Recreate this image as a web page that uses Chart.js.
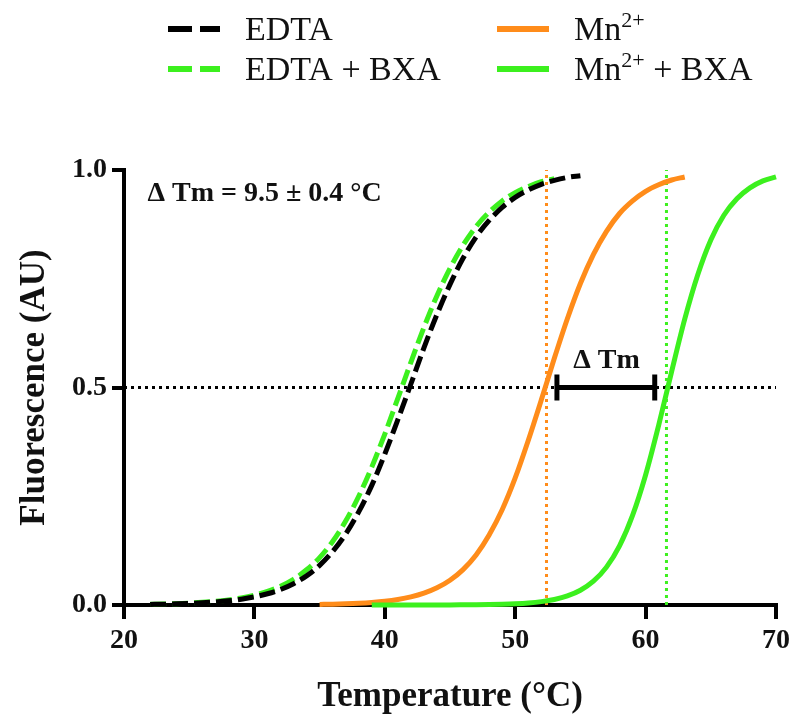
<!DOCTYPE html>
<html>
<head>
<meta charset="utf-8">
<script src="https://cdn.jsdelivr.net/npm/chart.js@4.4.1/dist/chart.umd.min.js"></script>
<style>
  html,body{margin:0;padding:0;background:#fff;}
  canvas{display:block;}
</style>
</head>
<body>
<canvas id="chart" width="795" height="724"></canvas>
<script>
// ====== DATA ======
const seriesLabels = ['EDTA', 'EDTA + BXA', 'Mn2+', 'Mn2+ + BXA'];

const edtaTemps = [22,23,24,25,26,27,28,29,30,31,32,33,34,35,36,37,38,39,40,41,42,43,44,45,46,47,48,49,50,51,52,53,54,55];
const edtaValues = [0.0013,0.0018,0.0026,0.0036,0.005,0.0069,0.0096,0.0134,0.0186,0.0258,0.0356,0.049,0.067,0.091,0.123,0.163,0.214,0.275,0.347,0.426,0.508,0.591,0.668,0.737,0.797,0.846,0.884,0.914,0.937,0.954,0.967,0.976,0.983,0.987];

const edtaBxaTemps = [22,23,24,25,26,27,28,29,30,31,32,33,34,35,36,37,38,39,40,41,42,43,44,45,46,47,48,49,50,51,52,53];
const edtaBxaValues = [0.0016,0.0022,0.0031,0.0044,0.0061,0.0084,0.0117,0.0163,0.0226,0.0313,0.0431,0.059,0.081,0.109,0.146,0.193,0.25,0.317,0.393,0.475,0.558,0.638,0.711,0.774,0.827,0.87,0.903,0.929,0.948,0.962,0.973,0.98];

const mnTemps = [35,36,37,38,39,40,41,42,43,44,45,46,47,48,49,50,51,52,53,54,55,56,57,58,59,60,61,62,63];
const mnValues = [0.0013,0.0019,0.0028,0.0041,0.006,0.0087,0.0128,0.0187,0.0272,0.0395,0.0569,0.0814,0.115,0.161,0.219,0.292,0.378,0.471,0.567,0.658,0.739,0.806,0.859,0.9,0.929,0.951,0.966,0.977,0.984];

const mnBxaTemps = [39,40,41,42,43,44,45,46,47,48,49,50,51,52,53,54,55,56,57,58,59,60,61,62,63,64,65,66,67,68,69,70];
const mnBxaValues = [0,0,0,0.0001,0.0001,0.0001,0.0002,0.0004,0.0006,0.0011,0.0018,0.0029,0.0047,0.0078,0.0128,0.0208,0.0339,0.0547,0.0871,0.136,0.206,0.299,0.413,0.537,0.657,0.759,0.839,0.896,0.934,0.959,0.975,0.984];

const tmValues = [52.4, 61.6];       // Mn2+, Mn2+ + BXA
const deltaBar = [53.2, 60.7];       // ΔTm bar ends
const halfLevel = 0.5;
const xTicks = [20, 70, 10];         // min, max, step
const yTicks = [0, 1, 0.5];
const deltaText = 'Δ Tm = 9.5 ± 0.4 °C';

// ====== STYLE ======
const BLACK = '#000000';
const GREEN = '#3cf01e';
const ORANGE = '#ff8c1a';
const SERIF = "Liberation Serif, DejaVu Serif, serif";

function pts(xs, ys){ return xs.map((x,i)=>({x:x, y:ys[i]})); }

const curve = (label, xs, ys, color, dash, order) => ({
  label, data: pts(xs, ys), showLine:true, borderColor:color, backgroundColor:color,
  borderWidth:5, borderDash:dash, pointRadius:0, cubicInterpolationMode:'monotone',
  order, clip:8, legendItem:true
});

const dotted = (data, color) => ({
  data, showLine:true, borderColor:color, borderWidth:3, borderDash:[3,4],
  pointRadius:0, order:20, clip:false
});

// ====== PLUGINS ======
function drawLabel(ctx, text, x, y){
  text.split(/(2\+)/).forEach(p=>{
    if(!p) return;
    if(p==='2+'){
      ctx.font = `22px ${SERIF}`;
      ctx.fillText(p, x, y-13);
    } else {
      ctx.font = `34px ${SERIF}`;
      ctx.fillText(p, x, y);
    }
    x += ctx.measureText(p).width;
  });
}

const topLegend = {
  id:'topLegend',
  afterDraw(chart){
    const ctx = chart.ctx;
    const cols = [168, 497], rows = [29, 69];
    const items = chart.data.datasets.filter(d=>d.legendItem);
    ctx.save();
    items.forEach((ds,i)=>{
      const x = cols[Math.floor(i/2)], y = rows[i%2];
      ctx.strokeStyle = ds.borderColor;
      ctx.lineWidth = 6;
      ctx.setLineDash(ds.borderDash.length ? [24,8] : []);
      ctx.beginPath(); ctx.moveTo(x, y); ctx.lineTo(x+52, y); ctx.stroke();
      ctx.setLineDash([]);
      ctx.fillStyle = '#111';
      ctx.textBaseline = 'alphabetic';
      ctx.textAlign = 'left';
      drawLabel(ctx, ds.label, x+77, y+11);
    });
    ctx.restore();
  }
};

const notes = {
  id:'notes',
  afterDatasetsDraw(chart){
    const ctx = chart.ctx, xs = chart.scales.x, ys = chart.scales.y;
    ctx.save();
    ctx.fillStyle = '#111';
    ctx.font = `bold 28px ${SERIF}`;
    ctx.textBaseline = 'middle';
    ctx.textAlign = 'left';
    ctx.fillText(deltaText, xs.getPixelForValue(21.8), ys.getPixelForValue(0.945));
    ctx.textAlign = 'center';
    ctx.fillText('Δ Tm', xs.getPixelForValue(57), ys.getPixelForValue(0.562));
    ctx.restore();
  }
};

// ====== CHART ======
new Chart(document.getElementById('chart'), {
  type:'scatter',
  data:{
    datasets:[
      curve(seriesLabels[0], edtaTemps, edtaValues, BLACK, [16,6], 1),
      curve(seriesLabels[1], edtaBxaTemps, edtaBxaValues, GREEN, [16,6], 2),
      curve(seriesLabels[2], mnTemps, mnValues, ORANGE, [], 4),
      curve(seriesLabels[3], mnBxaTemps, mnBxaValues, GREEN, [], 3),
      dotted([{x:xTicks[0], y:halfLevel},{x:xTicks[1], y:halfLevel}], BLACK),
      dotted([{x:tmValues[0], y:0},{x:tmValues[0], y:1}], ORANGE),
      dotted([{x:tmValues[1], y:0},{x:tmValues[1], y:1}], GREEN),
      {
        data:[{x:deltaBar[0], y:halfLevel},{x:deltaBar[1], y:halfLevel}],
        showLine:true, borderColor:BLACK, backgroundColor:BLACK, borderWidth:5,
        pointStyle:'line', rotation:90, pointRadius:13, pointBorderWidth:5,
        pointBorderColor:BLACK, order:0
      }
    ]
  },
  options:{
    responsive:false,
    animation:false,
    events:[],
    layout:{ padding:{ top:170, right:18, left:0, bottom:0 } },
    plugins:{ legend:{display:false}, tooltip:{enabled:false} },
    scales:{
      x:{
        type:'linear', min:xTicks[0], max:xTicks[1],
        afterFit(s){ s.height = 119; },
        ticks:{ stepSize:xTicks[2], color:'#111', padding:5, font:{family:SERIF, size:28, weight:'bold'} },
        grid:{ drawOnChartArea:false, color:BLACK, lineWidth:4, tickLength:14, tickWidth:4 },
        border:{ color:BLACK, width:4 },
        title:{ display:true, text:'Temperature (°C)', color:'#111', padding:{top:0, bottom:6}, font:{family:SERIF, size:35, weight:'bold'} }
      },
      y:{
        min:yTicks[0], max:yTicks[1],
        afterFit(s){ s.width = 124; },
        ticks:{ stepSize:yTicks[2], color:'#111', padding:5, callback:v=>v.toFixed(1), font:{family:SERIF, size:28, weight:'bold'} },
        grid:{ drawOnChartArea:false, color:BLACK, lineWidth:4, tickLength:12, tickWidth:4 },
        border:{ color:BLACK, width:4 },
        title:{ display:true, text:'Fluorescence (AU)', color:'#111', padding:{top:14, bottom:0}, font:{family:SERIF, size:35, weight:'bold'} }
      }
    }
  },
  plugins:[topLegend, notes]
});
</script>
</body>
</html>
